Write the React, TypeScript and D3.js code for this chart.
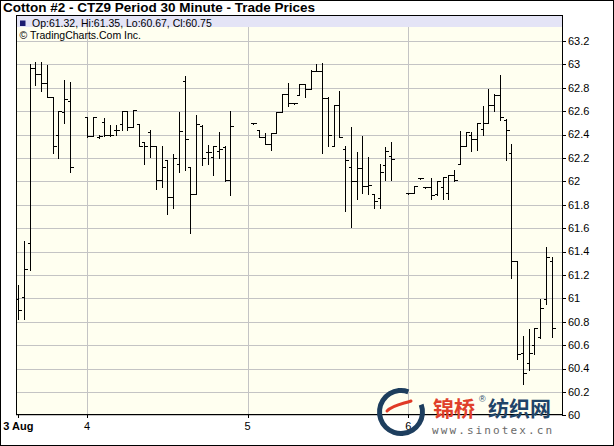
import React from "react";
import * as d3 from "d3";

// ---- data ----
const title = "Cotton #2 - CTZ9 Period 30 Minute - Trade Prices";
const legendText = "Op:61.32, Hi:61.35, Lo:60.67, Cl:60.75";
const creditText = "© TradingCharts.Com Inc.";

const dayLabels = ["3 Aug", "4", "5", "6"];
const dayStartIndex = [0, 12, 40, 68];

const yTicks = [60, 60.2, 60.4, 60.6, 60.8, 61, 61.2, 61.4, 61.6, 61.8, 62, 62.2, 62.4, 62.6, 62.8, 63, 63.2];

const barIndex = [
  0, 1, 2, 3, 4, 5, 6, 7, 8, 9,
  12, 13, 14, 15, 16, 17, 18, 19, 20, 21, 22, 23, 24, 25, 26, 27, 28, 29, 30, 31, 32, 33, 34, 35, 36, 37,
  41, 42, 43, 44, 45, 46, 47, 48, 49, 50, 51, 52, 53, 54, 55, 56, 57, 58, 59, 60, 61, 62, 63, 64, 65,
  68, 69, 70, 71, 72, 73, 74, 75, 76, 77, 78, 79, 80, 81, 82, 83, 84, 85, 86, 87, 88, 89, 90, 91, 92, 93,
];
const opens = [
  60.99, 61.01, 61.47, 62.97, 62.92, 62.84, 62.72, 62.40, 62.59, 62.69,
  62.55, 62.39, 62.38, 62.51, 62.40, 62.44, 62.49, 62.60, 62.46, 62.49, 62.34, 62.42, 62.30, 62.01, 62.18, 61.87, 62.15, 62.86, 62.12, 61.89, 62.47, 62.25, 62.21, 62.26, 62.29, 62.01,
  62.50, 62.44, 62.38, 62.32, 62.41, 62.59, 62.75, 62.67, 62.74, 62.83, 62.79, 62.94, 62.94, 62.71, 62.30, 62.65, 62.28, 62.12, 62.00, 62.11, 61.96, 61.89, 61.86, 62.14, 62.22,
  61.90, 61.90, 62.03, 61.95, 61.95, 61.89, 61.95, 61.90, 62.05, 62.15, 62.30, 62.40, 62.36, 62.45, 62.50, 62.65, 62.74, 62.52, 62.24, 61.32, 60.53, 60.45, 60.60, 60.67, 60.99, 61.32,
];
const highs = [
  61.11, 61.49, 63.00, 63.02, 63.02, 62.99, 62.72, 62.60, 62.87, 62.85,
  62.55, 62.55, 62.40, 62.54, 62.48, 62.48, 62.60, 62.60, 62.61, 62.49, 62.34, 62.44, 62.30, 62.30, 62.18, 62.23, 62.59, 62.90, 62.12, 62.57, 62.48, 62.31, 62.30, 62.42, 62.30, 62.60,
  62.50, 62.44, 62.41, 62.41, 62.59, 62.75, 62.84, 62.67, 62.83, 62.83, 62.95, 63.00, 63.01, 62.72, 62.65, 62.77, 62.30, 62.46, 62.25, 62.39, 62.21, 61.89, 62.15, 62.29, 62.34,
  61.90, 61.96, 62.03, 61.95, 62.03, 62.00, 62.04, 62.05, 62.10, 62.43, 62.42, 62.42, 62.50, 62.64, 62.79, 62.75, 62.91, 62.53, 62.32, 61.32, 60.68, 60.74, 60.75, 60.99, 61.44, 61.35,
];
const lows = [
  60.82, 60.82, 61.24, 62.82, 62.77, 62.72, 62.24, 62.20, 62.50, 62.08,
  62.38, 62.39, 62.37, 62.39, 62.39, 62.40, 62.44, 62.44, 62.46, 62.30, 62.15, 62.21, 61.93, 61.95, 61.72, 61.77, 62.08, 62.10, 61.56, 61.89, 62.14, 62.15, 62.05, 62.20, 62.00, 61.88,
  62.50, 62.38, 62.32, 62.27, 62.41, 62.59, 62.64, 62.67, 62.74, 62.72, 62.79, 62.94, 62.24, 62.30, 62.30, 62.38, 61.75, 61.61, 61.85, 61.90, 61.89, 61.77, 61.77, 62.01, 62.01,
  61.90, 61.90, 62.03, 61.95, 61.85, 61.88, 61.85, 61.85, 62.00, 62.15, 62.30, 62.26, 62.27, 62.40, 62.50, 62.60, 62.52, 62.18, 61.17, 60.48, 60.27, 60.39, 60.52, 60.66, 60.95, 60.67,
];
const closes = [
  60.90, 61.25, 62.97, 62.92, 62.84, 62.72, 62.30, 62.60, 62.70, 62.12,
  62.39, 62.55, 62.39, 62.40, 62.40, 62.44, 62.60, 62.46, 62.61, 62.30, 62.30, 62.30, 62.01, 62.12, 61.87, 62.20, 62.43, 62.36, 61.89, 62.49, 62.20, 62.25, 62.30, 62.28, 62.01, 62.47,
  62.50, 62.38, 62.32, 62.41, 62.59, 62.75, 62.67, 62.67, 62.83, 62.79, 62.94, 62.94, 62.71, 62.40, 62.65, 62.38, 62.18, 62.00, 62.11, 61.96, 61.97, 61.83, 62.08, 62.26, 62.19,
  61.90, 61.96, 62.03, 61.95, 61.88, 62.00, 62.04, 62.05, 62.01, 62.30, 62.42, 62.36, 62.50, 62.50, 62.65, 62.74, 62.55, 62.44, 61.32, 60.52, 60.36, 60.53, 60.75, 60.92, 61.35, 60.75,
];

// ---- layout ----
const W = 614;
const H = 446;
const plotL = 16;
const plotR = 563;
const plotT = 15;
const FONT = "'Liberation Sans', Arial, Helvetica, sans-serif";

export default function App() {
  const x = d3.scaleLinear().domain([-0.4, 95]).range([plotL, plotR]);
  const y = d3.scaleLinear().domain([60, 63]).range([415.3, 64.3]);
  const plotB = Math.round(y(60));
  const fmt = (v: number) => String(+v.toFixed(1));
  const px = (v: number) => Math.round(v) + 0.5;

  const bars = barIndex.map((bi, i) => ({
    bi,
    o: opens[i],
    h: highs[i],
    l: lows[i],
    c: closes[i],
  }));

  const arc = d3.arc();
  const ringPath = arc({
    innerRadius: 19,
    outerRadius: 24,
    startAngle: (70 * Math.PI) / 180,
    endAngle: (380 * Math.PI) / 180,
  }) as string;

  return (
    <svg
      width={W}
      height={H}
      style={{ position: "absolute", left: 0, top: 0, display: "block" }}
      fontFamily={FONT}
    >
      <rect x={0} y={0} width={W} height={H} fill="#ffffff" />
      {/* plot background */}
      <rect x={plotL} y={plotT} width={plotR - plotL} height={plotB - plotT} fill="#fffff0" />

      {/* horizontal grid */}
      {yTicks.map((t) => (
        <line
          key={"hg" + t}
          x1={plotL}
          x2={plotR}
          y1={px(y(t))}
          y2={px(y(t))}
          stroke="#c4c4c4"
          strokeWidth={1}
        />
      ))}
      {/* vertical grid at day starts */}
      {dayStartIndex.slice(1).map((d) => (
        <line
          key={"vg" + d}
          x1={px(x(d))}
          x2={px(x(d))}
          y1={plotT}
          y2={plotB}
          stroke="#c4c4c4"
          strokeWidth={1}
        />
      ))}

      {/* legend band */}
      <rect x={plotL + 1} y={plotT + 1} width={plotR - plotL - 2} height={11} fill="#e4e4f6" />
      <rect x={20} y={20.5} width={5.5} height={5.5} fill="#1c1c70" />
      <text x={32} y={26.5} fontSize={10.5} fill="#000">
        {legendText}
      </text>
      <text x={19.5} y={38.5} fontSize={10.5} fill="#000">
        {creditText}
      </text>

      {/* OHLC bars */}
      <g stroke="#000" strokeWidth={1} shapeRendering="crispEdges">
        {bars.map((b) => {
          const cx = px(x(b.bi));
          const yh = Math.round(y(b.h));
          const yl = Math.round(y(b.l));
          const yo = px(y(b.o));
          const yc = px(y(b.c));
          return (
            <g key={"b" + b.bi}>
              <line x1={cx} x2={cx} y1={yh} y2={Math.max(yl, yh + 1) + 1} />
              <line x1={cx - 3} x2={cx} y1={yo} y2={yo} />
              <line x1={cx} x2={cx + 3} y1={yc} y2={yc} />
            </g>
          );
        })}
      </g>

      {/* plot frame */}
      <rect
        x={plotL + 0.5}
        y={plotT + 0.5}
        width={plotR - plotL - 1}
        height={plotB - plotT - 1}
        fill="none"
        stroke="#000"
        strokeWidth={1}
      />

      {/* right axis */}
      {yTicks.map((t) => (
        <g key={"yt" + t}>
          <line x1={plotR - 1} x2={plotR + 3} y1={px(y(t))} y2={px(y(t))} stroke="#000" />
          <text x={plotR + 5} y={y(t)} dy="0.35em" fontSize={11} fill="#000">
            {fmt(t)}
          </text>
        </g>
      ))}

      {/* bottom axis */}
      {dayStartIndex.map((d, i) => (
        <g key={"xt" + d}>
          <line x1={px(x(d))} x2={px(x(d))} y1={plotB} y2={plotB + 3} stroke="#000" />
          <text
            x={x(d)}
            y={plotB + 15}
            fontSize={11}
            fontWeight={i === 0 ? "bold" : "normal"}
            textAnchor="middle"
            fill="#000"
          >
            {dayLabels[i]}
          </text>
        </g>
      ))}

      {/* title */}
      <text x={3} y={12} fontSize={12} fontWeight="bold" fill="#000" textLength={312} lengthAdjust="spacingAndGlyphs">
        {title}
      </text>

      {/* watermark */}
      <g>
        <path d={ringPath} transform="translate(401,412)" fill="#1d3e5e" />
        <path
          d="M387,411 C393,405 402,404 411,401"
          fill="none"
          stroke="#e03a26"
          strokeWidth={3}
          strokeLinecap="round"
        />
        <text
          x={433}
          y={416}
          fontSize={21}
          fontWeight="bold"
          fill="#e0402a"
          fontFamily="'Noto Sans CJK SC', sans-serif"
        >
          锦桥
        </text>
        <text x={479} y={402} fontSize={9} fill="#2a4a6a" fontFamily={FONT}>
          ®
        </text>
        <text
          x={488}
          y={416}
          fontSize={21}
          fontWeight="bold"
          fill="#1f4468"
          fontFamily="'Noto Sans CJK SC', sans-serif"
        >
          纺织网
        </text>
        <text
          x={432}
          y={434}
          fontSize={11}
          fill="#6a6a6a"
          fontFamily="'DejaVu Sans Mono', monospace"
          textLength={120}
          lengthAdjust="spacing"
        >
          www.sinotex.cn
        </text>
      </g>

      {/* outer border */}
      <rect x={0.5} y={0.5} width={W - 1} height={H - 1} fill="none" stroke="#000" strokeWidth={1} />
    </svg>
  );
}
